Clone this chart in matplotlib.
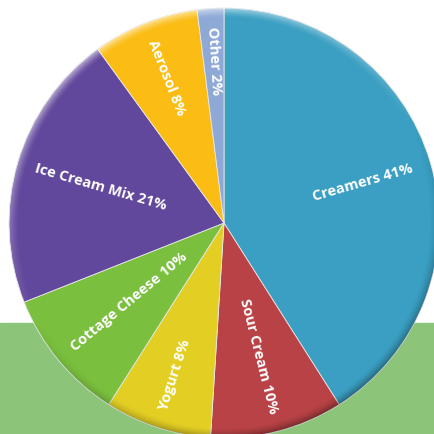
import numpy as np
import matplotlib
matplotlib.use('Agg')
import matplotlib.pyplot as plt
from matplotlib.patches import Rectangle, Circle

# Segmentos del mercado (porcentajes)
categorias = ['Creamers', 'Sour Cream', 'Yogurt', 'Cottage Cheese',
              'Ice Cream Mix', 'Aerosol', 'Other']
valores = [41, 10, 8, 10, 21, 8, 2]
colores = ['#3a9fc2', '#b84245', '#e3cf24', '#7abf3e',
           '#62489c', '#fbbd14', '#8fa9d6']

W = 434
centro = (224, W - 223)
radio = 215

fig = plt.figure(figsize=(4.34, 4.34), dpi=100)
ax = fig.add_axes([0, 0, 1, 1])

# Franja verde de fondo
ax.add_patch(Rectangle((0, 0), W, W - 323, color='#8cc47a', zorder=0))

wedges, _ = ax.pie(valores, colors=colores, startangle=90, counterclock=False,
                   center=centro, radius=radio, frame=True,
                   wedgeprops=dict(edgecolor='#e8e8e8', linewidth=0.6, zorder=2))
ax.set_xlim(0, W)
ax.set_ylim(0, W)
ax.axis('off')

# Sombreado del borde (luz desde arriba a la izquierda)
n = 600
xs = np.linspace(centro[0] - radio, centro[0] + radio, n)
ys = np.linspace(centro[1] - radio, centro[1] + radio, n)
X, Y = np.meshgrid(xs, ys)
dx = (X - centro[0]) / radio
dy = (Y - centro[1]) / radio
r = np.sqrt(dx**2 + dy**2)
borde = np.clip((r - 0.955) / 0.045, 0, 1) ** 1.5
luz = np.array([-0.45, 0.9])
luz = luz / np.linalg.norm(luz)
sombra = (dx * luz[0] + dy * luz[1]) / np.maximum(r, 1e-6)
img = np.zeros((n, n, 4))
claro = sombra > 0
img[claro, :3] = 1.0
img[claro, 3] = borde[claro] * sombra[claro] * 0.6
img[~claro, :3] = 0.0
img[~claro, 3] = borde[~claro] * (-sombra[~claro]) * 0.35
im = ax.imshow(img, extent=(xs[0], xs[-1], ys[0], ys[-1]), origin='lower',
               zorder=3, interpolation='bilinear')
im.set_clip_path(Circle(centro, radio, transform=ax.transData))
ax.set_xlim(0, W)
ax.set_ylim(0, W)

# Etiquetas radiales
for w, cat, val in zip(wedges, categorias, valores):
    ang = (w.theta1 + w.theta2) / 2.0
    ang = (ang + 180) % 360 - 180
    rad = np.deg2rad(ang)
    x = centro[0] + 0.915 * radio * np.cos(rad)
    y = centro[1] + 0.915 * radio * np.sin(rad)
    if -90 < ang < 90:
        rot, ha = ang, 'right'
    else:
        rot, ha = ang - 180, 'left'
    ax.text(x, y, '%s %d%%' % (cat, val), color='white', fontsize=10.5,
            fontweight='bold', family='Open Sans', rotation=rot,
            rotation_mode='anchor', ha=ha, va='center', zorder=4)

plt.savefig('out.png', dpi=100)
